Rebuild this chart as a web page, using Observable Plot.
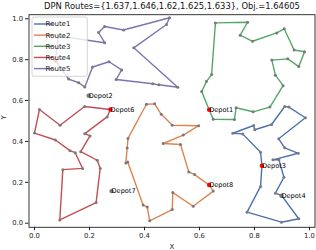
<!DOCTYPE html>
<html>
<head>
<meta charset="utf-8">
<script src="https://cdn.jsdelivr.net/npm/d3@7"></script>
<script src="https://cdn.jsdelivr.net/npm/@observablehq/plot@0.6"></script>
<style>
  html, body { margin: 0; padding: 0; background: #fff; }
  #chart { width: 316px; height: 250px; position: relative; }
  svg { font-family: "DejaVu Sans", sans-serif; }
</style>
</head>
<body>
<div id="chart"></div>
<script>
const titleText = "DPN Routes={1.637,1.646,1.62,1.625,1.633}, Obj.=1.64605";
const routeNames = ["Route1", "Route2", "Route3", "Route4", "Route5"];
const routeColors = ["#4C72B0", "#DD8452", "#55A868", "#C44E52", "#8172B3"];
const tickValues = [0, 0.2, 0.4, 0.6, 0.8, 1.0];

const depotNames = ["Depot1", "Depot2", "Depot3", "Depot4", "Depot5", "Depot6", "Depot7", "Depot8"];
const depotX = [0.635, 0.197, 0.827, 0.898, 0.076, 0.276, 0.280, 0.635];
const depotY = [0.555, 0.624, 0.281, 0.134, 0.796, 0.556, 0.157, 0.187];
const depotUsed = [true, false, true, false, true, true, false, true];
// labels hidden behind the legend in the original
const depotLabelHidden = [false, false, false, false, true, false, false, false];

// depot used by each route (index into depot arrays)
const routeDepot = [2, 7, 0, 5, 4];

const route1 = [[0.822,0.347],[0.757,0.437],[0.721,0.440],[0.797,0.478],[0.801,0.457],[0.862,0.483],[0.910,0.571],[0.925,0.568],[0.985,0.516],[0.888,0.413],[0.910,0.369],[0.959,0.342],[0.867,0.310],[0.889,0.310],[0.907,0.225],[0.876,0.147],[0.898,0.136],[0.961,0.022],[0.898,0.005],[0.773,0.054],[0.822,0.180]];
const route2 = [[0.650,0.157],[0.577,0.083],[0.503,0.150],[0.501,0.067],[0.419,0.012],[0.410,0.079],[0.395,0.089],[0.339,0.299],[0.332,0.294],[0.337,0.368],[0.340,0.415],[0.407,0.582],[0.437,0.584],[0.461,0.533],[0.501,0.479],[0.597,0.477],[0.541,0.431],[0.468,0.390],[0.531,0.385],[0.561,0.251],[0.582,0.238]];
const route3 = [[0.650,0.508],[0.727,0.507],[0.733,0.565],[0.795,0.545],[0.856,0.568],[0.904,0.673],[0.876,0.724],[0.863,0.798],[0.921,0.804],[0.961,0.766],[0.982,0.839],[0.944,0.847],[0.908,0.951],[0.881,0.931],[0.793,0.890],[0.748,0.920],[0.775,0.983],[0.658,0.980],[0.644,0.727],[0.625,0.693],[0.608,0.644]];
const route4 = [[0.182,0.571],[0.093,0.479],[0.018,0.556],[0.000,0.441],[0.076,0.407],[0.129,0.355],[0.148,0.345],[0.175,0.268],[0.103,0.262],[0.092,0.016],[0.224,0.101],[0.239,0.268],[0.228,0.308],[0.168,0.350],[0.202,0.427],[0.183,0.438],[0.264,0.520]];
const route5 = [[0.087,0.916],[0.255,0.883],[0.233,0.933],[0.255,0.962],[0.324,0.945],[0.491,1.005],[0.480,0.972],[0.361,0.858],[0.521,0.665],[0.452,0.677],[0.430,0.682],[0.297,0.703],[0.317,0.750],[0.271,0.790],[0.211,0.764],[0.183,0.666],[0.161,0.687],[0.124,0.705]];
const routes = [route1, route2, route3, route4, route5];

// Build tables for the library
const depots = depotNames.map((name, i) => ({name, x: depotX[i], y: depotY[i], used: depotUsed[i], hidden: depotLabelHidden[i]}));
const pathRows = [];
const customerRows = [];
routes.forEach((pts, r) => {
  const d = depots[routeDepot[r]];
  pathRows.push({route: routeNames[r], x: d.x, y: d.y});
  pts.forEach(([x, y]) => {
    pathRows.push({route: routeNames[r], x, y});
    customerRows.push({route: routeNames[r], x, y});
  });
  pathRows.push({route: routeNames[r], x: d.x, y: d.y});
});

const plot = Plot.plot({
  width: 316,
  height: 250,
  marginLeft: 28.5,
  marginRight: 1.5,
  marginTop: 14.2,
  marginBottom: 23.2,
  style: {fontFamily: "DejaVu Sans, sans-serif", background: "#fff", overflow: "visible"},
  x: {domain: [-0.02, 1.02], label: null},
  y: {domain: [-0.02, 1.02], label: null},
  color: {domain: routeNames, range: routeColors},
  marks: [
    Plot.line(pathRows, {x: "x", y: "y", z: "route", stroke: "route", strokeWidth: 1.4, curve: "linear"}),
    Plot.dot(customerRows, {x: "x", y: "y", r: 1.5, fill: "#7a7a7a", stroke: null}),
    Plot.dot(depots, {x: "x", y: "y", r: 2.2, fill: d => d.used ? "#ff0000" : "#7a7a7a", stroke: null}),
    Plot.text(depots.filter(d => !d.hidden), {x: "x", y: "y", text: "name", textAnchor: "start", lineAnchor: "bottom", dy: 2, fontSize: 6.6, fill: "#000"}),
    Plot.frame({stroke: "#222", strokeWidth: 0.9}),
    Plot.axisX({ticks: tickValues, tickFormat: d3.format(".1f"), tickSize: 3.5, tickPadding: 2, fontSize: 6.8, stroke: "#222", fill: "#222", label: null}),
    Plot.axisY({ticks: tickValues, tickFormat: d3.format(".1f"), tickSize: 3.5, tickPadding: 2.5, fontSize: 6.8, stroke: "#222", fill: "#222", label: null}),
    Plot.text([titleText], {frameAnchor: "top", dy: -8.3, text: d => d, fontSize: 8.4, lineAnchor: "middle", fill: "#111"}),
    Plot.text(["X"], {frameAnchor: "bottom", dy: 19.5, text: d => d, fontSize: 7, lineAnchor: "middle", fill: "#222"}),
    Plot.text(["Y"], {frameAnchor: "left", dx: -25, dy: -1.5, text: d => d, fontSize: 7, rotate: -90, lineAnchor: "middle", fill: "#222"})
  ]
});

document.getElementById("chart").appendChild(plot);

// Legend (matplotlib-style box in the upper-left of the axes)
const svg = d3.select(plot);
const lg = svg.append("g").attr("transform", "translate(32,17)");
lg.append("rect").attr("width", 55.3).attr("height", 59.3).attr("rx", 2)
  .attr("fill", "#fff").attr("fill-opacity", 0.8).attr("stroke", "#cccccc").attr("stroke-width", 0.8);
routeNames.forEach((name, i) => {
  const yy = 7 + i * 11.15;
  lg.append("line").attr("x1", 2).attr("x2", 21).attr("y1", yy).attr("y2", yy)
    .attr("stroke", routeColors[i]).attr("stroke-width", 1.4);
  lg.append("text").attr("x", 26).attr("y", yy).attr("dy", "0.35em")
    .attr("font-size", 7).attr("fill", "#222").text(name);
});
</script>
</body>
</html>
